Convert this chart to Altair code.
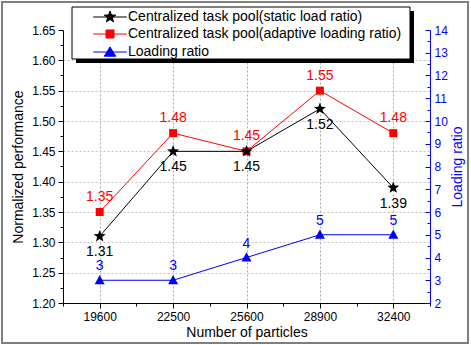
import math
import altair as alt
import pandas as pd

# ---- data -------------------------------------------------------------
particles = ["19600", "22500", "25600", "28900", "32400"]
static_perf = [1.31, 1.45, 1.45, 1.52, 1.39]
adaptive_perf = [1.35, 1.48, 1.45, 1.55, 1.48]
loading_ratio = [3, 3, 4, 5, 5]

series_names = [
    "Centralized task pool(static load ratio)",
    "Centralized task pool(adaptive loading ratio)",
    "Loading ratio",
]
series_colors = ["#000000", "#ff0000", "#0000ff"]

df = pd.DataFrame({
    "idx": list(range(len(particles))),
    "particles": particles,
    "static": static_perf,
    "adaptive": adaptive_perf,
    "ratio": loading_ratio,
})

FONT = "Liberation Sans"
W, H = 367, 273


# ---- marker shapes ----------------------------------------------------
def star(r_out=1.0, r_in=0.42):
    pts = []
    for k in range(10):
        r = r_out if k % 2 == 0 else r_in
        a = math.radians(-90 + 36 * k)
        pts.append(f"{r * math.cos(a):.3f},{r * math.sin(a):.3f}")
    return "M" + "L".join(pts) + "Z"


STAR = star()
SQUARE = "M-1,-1H1V1H-1Z"
TRIANGLE = "M0,-1.05L1,0.8L-1,0.8Z"

seg = "M-2.8,0H2.8"
legend_shapes = [
    seg + STAR,
    seg + "M-0.67,-0.67H0.67V0.67H-0.67Z",
    seg + "M0,-0.85L0.95,0.7L-0.95,0.7Z",
]

# ---- scales / axes ----------------------------------------------------
x_enc = alt.X(
    "idx:Q",
    scale=alt.Scale(domain=[-0.5, len(particles) - 0.5], nice=False, zero=False),
    axis=alt.Axis(
        values=[i * 0.5 - 0.5 for i in range(2 * len(particles) + 1)],
        labelExpr="datum.value % 1 == 0 ? " + str(particles) + "[datum.value] : ''",
        tickSize={"condition": {"test": "datum.value % 1 != 0", "value": 3}, "value": 5},
        grid=True,
        gridOpacity={"condition": {"test": "datum.value % 1 != 0", "value": 0}, "value": 1},
        gridDash=[2, 2],
        gridColor="#a8a8a8",
        labelPadding=3,
        title="Number of particles",
        titlePadding=3,
    ),
)

left_vals = [round(1.2 + 0.025 * i, 3) for i in range(19)]
y_left_axis = alt.Axis(
    values=left_vals,
    labelExpr="round(datum.value*1000) % 50 == 0 ? format(datum.value, '.2f') : ''",
    tickSize={"condition": {"test": "round(datum.value*1000) % 50 != 0", "value": 3}, "value": 5},
    grid=True,
    gridOpacity={"condition": {"test": "round(datum.value*1000) % 50 != 0 || datum.value > 1.64", "value": 0}, "value": 1},
    gridDash=[2, 2],
    gridColor="#c4c4c4",
    labelPadding=3,
    title="Normalized performance",
    titlePadding=6,
)
y_left_scale = alt.Scale(domain=[1.2, 1.65], nice=False, zero=False)

right_vals = [2 + 0.5 * i for i in range(25)]
y_right = alt.Y(
    "ratio:Q",
    scale=alt.Scale(domain=[2, 14], nice=False, zero=False),
    axis=alt.Axis(
        orient="right",
        values=right_vals,
        labelExpr="datum.value % 1 == 0 ? datum.value : ''",
        tickSize={"condition": {"test": "datum.value % 1 != 0", "value": -3}, "value": -5},
        grid=False,
        domainColor="#0000ff",
        tickColor="#0000ff",
        labelColor="#0000ff",
        titleColor="#0000ff",
        labelPadding=9,
        title="Loading ratio",
        titleAngle=270,
        titlePadding=17,
    ),
)

base = alt.Chart(df)

# ---- decoration: outer frame and legend box ---------------------------
frame_df = pd.DataFrame({"k": [0]})
outer = alt.Chart(frame_df).mark_rect(fill="white", fillOpacity=0, stroke="#7f7f7f", strokeWidth=2).encode(
    x=alt.value(-61), x2=alt.value(405), y=alt.value(-28), y2=alt.value(313)
)
shadow = alt.Chart(frame_df).mark_rect(fill="black").encode(
    x=alt.value(13), x2=alt.value(351), y=alt.value(-19), y2=alt.value(33)
)
box = alt.Chart(frame_df).mark_rect(fill="white", stroke="black", strokeWidth=1).encode(
    x=alt.value(9), x2=alt.value(347), y=alt.value(-23), y2=alt.value(29)
)

# ---- performance series (left axis) -----------------------------------
def perf_layers(field, color, shape, size, dy):
    y = alt.Y(f"{field}:Q", scale=y_left_scale, axis=y_left_axis,
              title="Normalized performance")
    line = base.mark_line(color=color, strokeWidth=1).encode(x=x_enc, y=y)
    pts = base.mark_point(filled=True, opacity=1, color=color, shape=shape, size=size).encode(x=x_enc, y=y)
    txt = base.mark_text(color=color, font=FONT, fontSize=14, dy=dy).encode(
        x=x_enc, y=y, text=alt.Text(f"{field}:Q", format=".2f"))
    return [line, pts, txt]


red = perf_layers("adaptive", "#ff0000", SQUARE, 64, -15)
black = perf_layers("static", "#000000", STAR, 160, 16)

legend_props = alt.Legend(orient="none", legendX=40, legendY=-20, title=None)
legend_layer = alt.Chart(pd.DataFrame({"series": series_names})).mark_point(
    filled=True, opacity=1, size=144, strokeWidth=1
).encode(
    fill=alt.Fill("series:N", scale=alt.Scale(domain=series_names, range=series_colors), legend=legend_props, title=None),
    stroke=alt.Stroke("series:N", scale=alt.Scale(domain=series_names, range=series_colors), legend=legend_props, title=None),
    shape=alt.Shape("series:N", scale=alt.Scale(domain=series_names, range=legend_shapes), legend=legend_props, title=None),
).transform_filter("false")

left = alt.layer(outer, shadow, box, *red, *black, legend_layer)

# ---- loading ratio (right axis) ---------------------------------------
ratio_line = base.mark_line(color="#0000ff", strokeWidth=1).encode(x=x_enc, y=y_right)
ratio_pts = base.mark_point(filled=True, opacity=1, color="#0000ff", shape=TRIANGLE, size=100).encode(x=x_enc, y=y_right)
ratio_txt = base.mark_text(color="#0000ff", font=FONT, fontSize=14, dy=-14).encode(
    x=x_enc, y=y_right, text="ratio:Q")
right = alt.layer(ratio_line, ratio_pts, ratio_txt)

chart = alt.layer(left, right).resolve_scale(y="independent").properties(
    width=W, height=H,
    autosize=alt.AutoSizeParams(type="none"),
    padding={"left": 63, "top": 30, "right": 471 - 63 - W, "bottom": 345 - 30 - H},
).configure_view(stroke=None).configure_axis(
    domainColor="black", tickColor="black", labelColor="black",
    labelFont=FONT, titleFont=FONT, labelFontSize=12, titleFontSize=14,
    titleFontWeight="normal", domainWidth=1, tickWidth=1,
).configure_legend(
    padding=0, symbolSize=144, symbolStrokeWidth=1,
    labelFont=FONT, labelFontSize=14, labelOffset=11, labelLimit=400,
    rowPadding=3,
)

chart.save("out.html", embed_options={"renderer": "svg", "actions": False})
